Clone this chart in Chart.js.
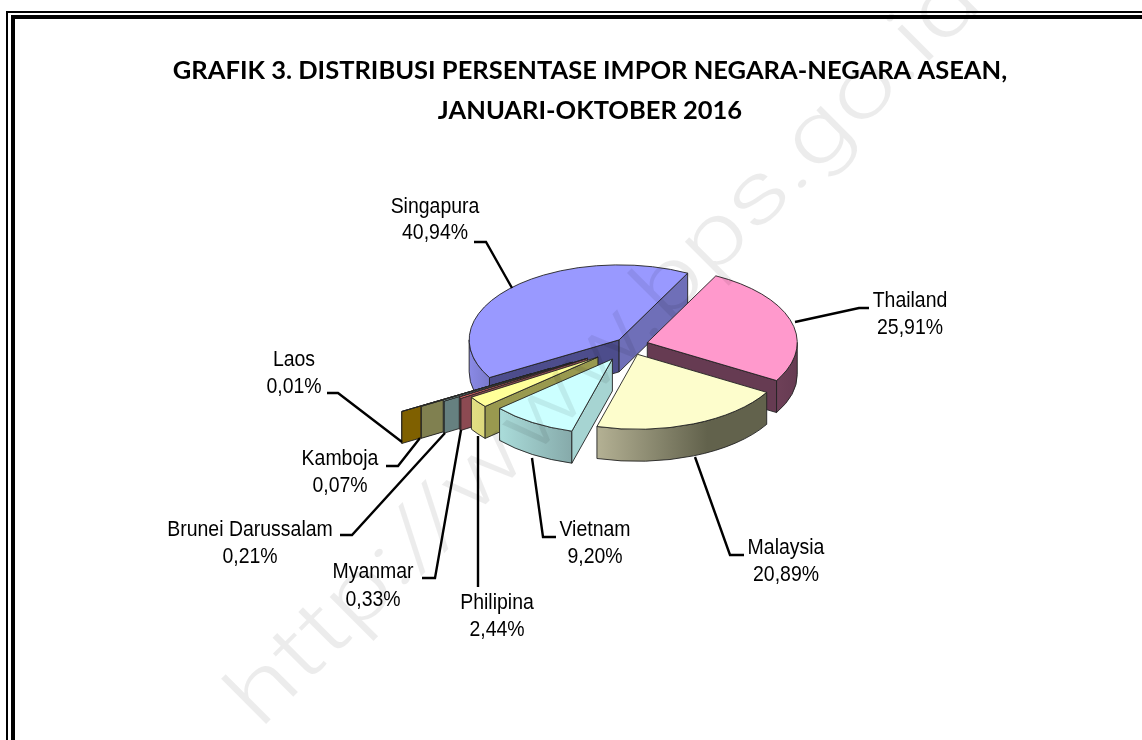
<!DOCTYPE html>
<html>
<head>
<meta charset="utf-8">
<style>html,body{margin:0;padding:0;background:#fff;overflow:hidden}canvas{display:block}</style>
<script src="https://cdn.jsdelivr.net/npm/chart.js@4"></script>
</head>
<body>
<canvas id="c" width="1142" height="740"></canvas>
<script>
const categories = ['Thailand','Malaysia','Vietnam','Philipina','Myanmar','Brunei Darussalam','Kamboja','Laos','Singapura'];
const shares = [25.91,20.89,9.20,2.44,0.33,0.21,0.07,0.01,40.94];
const titleLines = ['GRAFIK 3. DISTRIBUSI PERSENTASE IMPOR NEGARA-NEGARA ASEAN,','JANUARI-OKTOBER 2016'];
const watermark = 'http://www.bps.go.id';

// styling
const explode = [18,20,33,40,50,67,92,114,15];
const topColors = ['#ff99cc','#fdfdcc','#ccffff','#ffff99','#ff7070','#ccffff','#ffff99','#ffc000','#9999ff'];
const startWall = ['#663b52','#66664f','#a6d4d2','#99994f','#8c4a52','#668080','#808050','#7f6000','#4d4d8c'];
const endWall = ['#663b52','#66664f','#8cb0b0','#99994f','#8c4a52','#668080','#808050','#7f6000','#6f6fb8'];
const outerWall = [['#6e4058','#663b52'],['#b4b194','#62624c'],['#aadcda','#86aaaa'],['#e2de84','#dcd87c'],['#8c4a52','#8c4a52'],['#668080','#668080'],['#808050','#808050'],['#7f6000','#7f6000'],['#8a8ae6','#7a7acc']];
const paintOrder = [8,0,7,6,5,4,3,2,1];
const squash = 0.5, depth = 32, pieShiftX = 40;

// label placement: text centres and leader polyline
const labelPlacement = [
  {x:910,y:[301,328],line:[[869,308],[859,308],[795,322]]},
  {x:786,y:[548,575],line:[[744,555],[730,555],[695,457]]},
  {x:595,y:[530,557],line:[[556,537],[543,537],[532,458]]},
  {x:497,y:[603,630],line:[[478,587],[478,436]]},
  {x:373,y:[572,600],line:[[422,578],[435,578],[461,430]]},
  {x:250,y:[530,557],line:[[340,535],[352,535],[445,433]]},
  {x:340,y:[459,486],line:[[386,466],[398,466],[420,438]]},
  {x:294,y:[360,387],line:[[327,393],[338,393],[402,442]]},
  {x:435,y:[207,233],line:[[474,242],[486,242],[512,288]]}
];

const framePlugin = {
  id:'frame',
  beforeDraw(chart){
    const {ctx,width,height}=chart;
    ctx.save();
    ctx.fillStyle='#fff';ctx.fillRect(0,0,width,height);
    ctx.fillStyle='#000';
    ctx.fillRect(6,11,width-6,2);ctx.fillRect(6,11,2,height-11);
    ctx.fillRect(11,15,width-11,4);ctx.fillRect(11,15,4,height-15);
    ctx.restore();
  }
};

const pie3d = {
  id:'pie3d',
  beforeDatasetsDraw(chart){
    const ctx=chart.ctx, arcs=chart.getDatasetMeta(0).data;
    paintOrder.forEach(i=>{
      const arc=arcs[i];
      const a0=arc.startAngle,a1=arc.endAngle,R=arc.outerRadius,mid=(a0+a1)/2,e=explode[i];
      const cx=arc.x+pieShiftX+e*Math.cos(mid), cy=arc.y+squash*e*Math.sin(mid);
      const px=a=>cx+R*Math.cos(a), py=a=>cy+R*squash*Math.sin(a);
      ctx.save();
      ctx.lineWidth=0.9;ctx.strokeStyle='#222';ctx.lineJoin='round';
      // outer wall (front half only)
      const s=Math.max(a0,0),t=Math.min(a1,Math.PI);
      if(t>s){
        const g=ctx.createLinearGradient(px(t),0,px(s),0);
        g.addColorStop(0,outerWall[i][0]);g.addColorStop(i===1?0.65:1,outerWall[i][1]);
        ctx.beginPath();
        ctx.ellipse(cx,cy,R,R*squash,0,s,t);
        ctx.lineTo(px(t),py(t)+depth);
        ctx.ellipse(cx,cy+depth,R,R*squash,0,t,s,true);
        ctx.closePath();
        ctx.fillStyle=g;ctx.fill();ctx.stroke();
      }
      // radial cut walls
      const wall=(a,c)=>{
        ctx.beginPath();ctx.moveTo(cx,cy);ctx.lineTo(px(a),py(a));
        ctx.lineTo(px(a),py(a)+depth);ctx.lineTo(cx,cy+depth);ctx.closePath();
        ctx.fillStyle=c;ctx.fill();ctx.stroke();
      };
      if(Math.cos(a0)<0) wall(a0,startWall[i]);
      if(Math.cos(a1)>0) wall(a1,endWall[i]);
      // top face: the library's own arc, squashed
      ctx.save();
      ctx.transform(1,0,0,squash,cx-arc.x,cy-arc.y*squash);
      arc.draw(ctx);
      ctx.restore();
      ctx.beginPath();ctx.moveTo(cx,cy);ctx.ellipse(cx,cy,R,R*squash,0,a0,a1);ctx.closePath();ctx.stroke();
      ctx.restore();
    });
    return false;
  }
};

const labelPlugin = {
  id:'pieLabels',
  afterDraw(chart){
    const ctx=chart.ctx;
    ctx.save();
    ctx.strokeStyle='#000';ctx.lineWidth=2.4;ctx.lineJoin='miter';
    labelPlacement.forEach(p=>{
      ctx.beginPath();
      p.line.forEach((q,k)=>k?ctx.lineTo(q[0],q[1]):ctx.moveTo(q[0],q[1]));
      ctx.stroke();
    });
    ctx.fillStyle='#000';ctx.textAlign='center';ctx.textBaseline='middle';
    ctx.font='22.5px "Liberation Sans", Arial, sans-serif';
    const narrow=0.865;
    categories.forEach((name,i)=>{
      const p=labelPlacement[i];
      ctx.save();
      ctx.translate(p.x,0);ctx.scale(narrow,1);
      ctx.fillText(name,0,p.y[0]);
      ctx.fillText(shares[i].toFixed(2).replace('.',',')+'%',0,p.y[1]);
      ctx.restore();
    });
    // watermark
    ctx.font='300 85px Roboto, "Liberation Sans", sans-serif';
    const stretch=1025/ctx.measureText(watermark).width;
    ctx.translate(260,730);ctx.rotate(-Math.PI/4);ctx.scale(stretch,1);
    ctx.textAlign='left';ctx.textBaseline='alphabetic';
    ctx.fillStyle='rgba(0,0,0,0.075)';
    ctx.fillText(watermark,0,0);
    ctx.restore();
  }
};

new Chart(document.getElementById('c'),{
  type:'pie',
  data:{labels:categories,datasets:[{data:shares,backgroundColor:topColors,borderWidth:0}]},
  options:{
    responsive:false,animation:false,rotation:27.2,
    layout:{padding:{left:38,right:0,top:0,bottom:245}},
    plugins:{
      legend:{display:false},tooltip:{enabled:false},
      title:{display:true,text:titleLines,color:'#000',
        font:{family:'Lato, "Open Sans", sans-serif',weight:'bold',size:25.5,lineHeight:1.57},
        padding:{top:51,bottom:64}}
    }
  },
  plugins:[framePlugin,pie3d,labelPlugin]
});
</script>
</body>
</html>
